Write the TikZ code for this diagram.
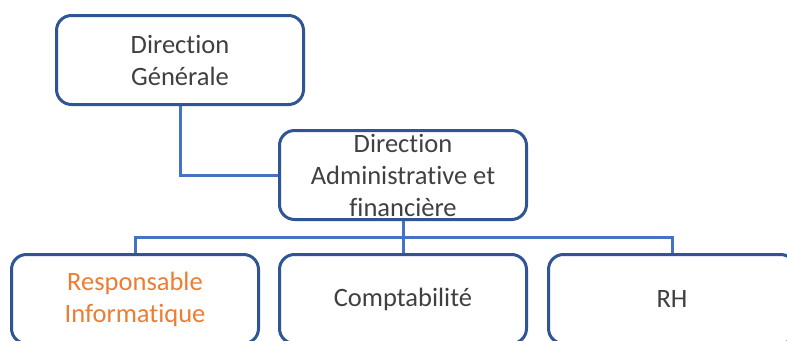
\documentclass[tikz,border=0pt]{standalone}
\usepackage{fontspec}
\setmainfont{Carlito}[Ligatures=NoCommon]
\definecolor{boxblue}{HTML}{2F5597}
\definecolor{linkblue}{HTML}{4472C4}
\definecolor{txtgray}{HTML}{404040}
\definecolor{txtorange}{HTML}{ED7D31}
\begin{document}
\begin{tikzpicture}[x=1pt,y=-1pt,
  orgbox/.style={draw=boxblue, line width=3pt, rounded corners=15pt, fill=white,
    minimum width=247pt, minimum height=89pt, inner sep=2pt, align=center,
    text=txtgray, font=\fontsize{26.5}{32}\selectfont},
  link/.style={draw=linkblue, line width=3pt}]
\useasboundingbox (0,0) rectangle (787,340);
\clip (0,0) rectangle (787,340);
\fill[white] (0,0) rectangle (787,340);
\node[orgbox] (dg) at (180,60) {Direction\\Générale};
\node[orgbox] (da) at (403,175) {Direction\\Administrative et\\financière};
\node[orgbox, text=txtorange] (ri) at (135,299) {Responsable\\Informatique};
\node[orgbox] (cp) at (403,299) {Comptabilité};
\node[orgbox] (rh) at (672,299) {RH};
\coordinate (bus) at (403,237);
\draw[link] (dg.south) |- (da.west);
\draw[link] (da.south) -- (bus);
\draw[link] (bus) -| (ri.north);
\draw[link] (bus) -- (cp.north);
\draw[link] (bus) -| (rh.north);
\end{tikzpicture}
\end{document}
